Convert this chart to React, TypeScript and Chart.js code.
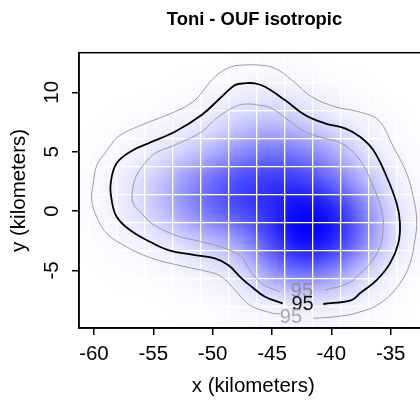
import React, { useEffect, useRef } from 'react';
import { Chart, registerables } from 'chart.js';

Chart.register(...registerables);

// ---- axis values ----
const xTicks = [-60, -55, -50, -45, -40, -35];
const yTicks = [-5, 0, 5, 10];
const xRange = [-61.26, -31.9];
const yRange = [-9.86, 13.34];

// white raster grid lines (km)
const gridX = [-60.42, -58.06, -55.7, -53.34, -50.98, -48.62, -46.26, -43.9, -41.54, -39.18, -36.82, -34.46, -32.1];
const gridY = [-8.03, -5.67, -3.31, -0.95, 1.41, 3.77, 6.13, 8.49, 10.85, 13.21];

// ---- density (relative intensity) ----
const densityX = [-60, -57.5, -55, -52.5, -50, -47.5, -45, -42.5, -40, -37.5, -35, -32.5];
const densityY = [12.5, 10, 7.5, 5, 2.5, 0, -2.5, -5, -7.5, -10];
const densityZ = [
  [0, 0, 0, 0, 0, 0.01, 0.02, 0.01, 0, 0, 0, 0],
  [0, 0, 0, 0.01, 0.03, 0.06, 0.08, 0.06, 0.03, 0.01, 0, 0],
  [0, 0.01, 0.03, 0.05, 0.1, 0.2, 0.25, 0.2, 0.1, 0.05, 0.02, 0],
  [0.01, 0.03, 0.08, 0.17, 0.3, 0.45, 0.55, 0.5, 0.35, 0.13, 0.04, 0.01],
  [0.02, 0.08, 0.2, 0.4, 0.6, 0.75, 0.8, 0.78, 0.6, 0.32, 0.09, 0.02],
  [0.02, 0.08, 0.2, 0.4, 0.6, 0.72, 0.85, 1.0, 0.92, 0.55, 0.15, 0.03],
  [0.01, 0.03, 0.07, 0.15, 0.27, 0.42, 0.75, 1.0, 0.9, 0.55, 0.15, 0.03],
  [0, 0.01, 0.02, 0.04, 0.08, 0.15, 0.45, 0.62, 0.5, 0.22, 0.06, 0.01],
  [0, 0, 0, 0.01, 0.02, 0.05, 0.08, 0.12, 0.1, 0.05, 0.02, 0],
  [0, 0, 0, 0, 0, 0.01, 0.02, 0.03, 0.02, 0.01, 0, 0],
];

// ---- 95% contour: estimate ----
const estimateX = [-40.68, -38.29, -37.59, -36.18, -35.06, -34.36, -34.22, -34.5, -35.34, -36.47, -37.59, -38.85, -40.54, -42.22, -43.91, -45.59, -46.44, -47.28, -48.12, -49.24, -50.93, -53.18, -55.43, -56.69, -58.09, -58.59, -58.51, -58.09, -56.97, -55.28, -53.74, -51.49, -49.81, -48.69, -47.56, -46.71, -45.59, -44.1];
const estimateY = [-7.83, -7.5, -6.93, -5.81, -4.41, -2.72, -1.04, 0.65, 2.89, 5.14, 6.26, 6.97, 7.39, 8.09, 9.35, 10.47, 10.76, 10.76, 10.61, 9.63, 8.09, 6.68, 5.7, 5.14, 4.02, 2.33, 0.93, -0.48, -1.6, -2.59, -3.29, -3.71, -3.98, -4.55, -5.67, -6.38, -7.22, -7.78];

// ---- 95% contour: lower CI (inner) ----
const lowerX = [-40.54, -38.58, -37.59, -36.75, -35.91, -35.63, -35.76, -36.47, -37.59, -39.13, -40.54, -42.22, -43.63, -45.03, -46.16, -47.28, -48.12, -49.53, -50.93, -53.18, -54.86, -55.7, -56.46, -56.77, -56.69, -55.98, -55.14, -53.18, -50.93, -48.96, -47.56, -47.11, -45.87, -44.33];
const lowerY = [-6.66, -6.09, -5.25, -4.41, -3.01, -1.32, 0.08, 2.05, 4.3, 5.7, 6.12, 6.68, 7.67, 8.65, 8.93, 9.01, 8.79, 7.94, 6.68, 5.56, 4.86, 4.02, 2.89, 1.52, 0.65, -0.19, -1.04, -2.02, -2.59, -3.14, -3.85, -4.63, -6.09, -6.8];

// ---- 95% contour: upper CI (outer) ----
const upperX = [-41.52, -39.7, -38.01, -35.91, -34.22, -33.38, -32.96, -32.81, -33.1, -33.66, -34.78, -36.05, -37.73, -39.7, -41.66, -43.34, -44.75, -46.16, -47.28, -48.4, -49.81, -51.49, -53.18, -55.98, -57.95, -58.99, -59.75, -60.06, -60.19, -59.77, -58.93, -57.25, -55.28, -52.33, -50.37, -49.24, -48.12, -46.86, -45.03, -44.33];
const upperY = [-9.04, -8.9, -8.62, -7.78, -6.09, -4.41, -2.44, -0.76, 1.2, 3.18, 5.42, 7.67, 8.37, 8.79, 9.63, 11.04, 12.02, 12.3, 12.3, 12.16, 11.31, 9.35, 8.37, 7.25, 6.26, 4.97, 3.88, 2.33, 0.93, -0.48, -1.88, -3.01, -3.92, -4.69, -5.11, -5.53, -6.66, -7.92, -8.59, -8.66];

// contour labels (lower, estimate, upper)
const labelText = ['95', '95', '95'];
const labelX = [-42.48, -42.43, -43.4];
const labelY = [-6.8, -7.83, -8.97];

const FONT = '"Liberation Sans", Arial, Helvetica, sans-serif';
const toPoints = (xs: number[], ys: number[]) => xs.map((x, i) => ({ x, y: ys[i] }));

export default function App() {
  const ref = useRef<HTMLCanvasElement | null>(null);

  useEffect(() => {
    const canvas = ref.current;
    if (!canvas) return;

    const densityPlugin = {
      id: 'densityRaster',
      beforeDraw(chart: any) {
        const { ctx, chartArea: a, scales } = chart;
        const xs = scales.x, ys = scales.y;
        const nx = densityX.length, ny = densityY.length;
        const off = document.createElement('canvas');
        off.width = nx; off.height = ny;
        const octx = off.getContext('2d')!;
        const img = octx.createImageData(nx, ny);
        for (let j = 0; j < ny; j++) {
          for (let i = 0; i < nx; i++) {
            const k = (j * nx + i) * 4;
            img.data[k] = 0; img.data[k + 1] = 0; img.data[k + 2] = 255;
            img.data[k + 3] = Math.round(densityZ[j][i] * 255);
          }
        }
        octx.putImageData(img, 0, 0);
        const hx = (densityX[1] - densityX[0]) / 2;
        const hy = (densityY[0] - densityY[1]) / 2;
        const l = xs.getPixelForValue(densityX[0] - hx);
        const r = xs.getPixelForValue(densityX[nx - 1] + hx);
        const t = ys.getPixelForValue(densityY[0] + hy);
        const b = ys.getPixelForValue(densityY[ny - 1] - hy);
        ctx.save();
        ctx.beginPath();
        ctx.rect(a.left, a.top, a.right - a.left, a.bottom - a.top);
        ctx.clip();
        ctx.imageSmoothingEnabled = true;
        ctx.imageSmoothingQuality = 'high';
        ctx.filter = 'blur(7px)';
        ctx.drawImage(off, l, t, r - l, b - t);
        ctx.restore();
      },
    };

    const decorPlugin = {
      id: 'decor',
      afterDatasetsDraw(chart: any) {
        const { ctx, scales } = chart;
        const colors = ['#8f8f8f', '#111111', '#a9a9a9'];
        ctx.save();
        ctx.font = `20px ${FONT}`;
        ctx.textAlign = 'center';
        ctx.textBaseline = 'middle';
        labelText.forEach((s, i) => {
          ctx.fillStyle = colors[i];
          ctx.fillText(s, scales.x.getPixelForValue(labelX[i]), scales.y.getPixelForValue(labelY[i]));
        });
        ctx.restore();
      },
      afterDraw(chart: any) {
        const { ctx, chartArea: a, scales } = chart;
        ctx.save();
        // frame
        ctx.strokeStyle = '#000';
        ctx.lineWidth = 1.5;
        ctx.strokeRect(a.left, a.top, a.right - a.left, a.bottom - a.top);
        // y tick labels, rotated like R
        ctx.fillStyle = '#000';
        ctx.font = `20.5px ${FONT}`;
        ctx.textAlign = 'center';
        ctx.textBaseline = 'middle';
        yTicks.forEach((v) => {
          const py = scales.y.getPixelForValue(v);
          ctx.save();
          ctx.translate(52.5, py);
          ctx.rotate(-Math.PI / 2);
          ctx.fillText(String(v), 0, 0);
          ctx.restore();
        });
        // main title
        ctx.font = `bold 18.4px ${FONT}`;
        ctx.fillText('Toni - OUF isotropic', 254.5, 20.3);
        ctx.restore();
      },
    };

    const chart = new Chart(canvas, {
      type: 'scatter',
      data: {
        datasets: [
          {
            label: 'upper',
            data: toPoints(upperX, upperY),
            showLine: true,
            borderColor: '#9a9a9a',
            borderWidth: 1,
            pointRadius: 0,
            tension: 0.4,
          },
          {
            label: 'lower',
            data: toPoints(lowerX, lowerY),
            showLine: true,
            borderColor: '#9a9a9a',
            borderWidth: 1,
            pointRadius: 0,
            tension: 0.4,
          },
          {
            label: 'estimate',
            data: toPoints(estimateX, estimateY),
            showLine: true,
            borderColor: '#000000',
            borderWidth: 1.8,
            pointRadius: 0,
            tension: 0.4,
          },
        ],
      },
      options: {
        animation: false,
        responsive: false,
        devicePixelRatio: 1,
        layout: { padding: { left: 0, top: 52.7, right: 52.5, bottom: 0 } },
        plugins: { legend: { display: false }, tooltip: { enabled: false }, title: { display: false } },
        scales: {
          x: {
            type: 'linear',
            position: 'bottom',
            min: xRange[0],
            max: xRange[1],
            afterBuildTicks: (s: any) => { s.ticks = xTicks.map((v) => ({ value: v })); },
            afterFit: (s: any) => { s.height = 73.9; },
            grid: { drawOnChartArea: false, color: '#000', lineWidth: 1.5, tickLength: 7 },
            border: { display: true, color: '#000', width: 1.5 },
            ticks: { color: '#000', font: { family: FONT, size: 20.5 }, padding: 7, maxRotation: 0, callback: (v: any) => String(v) },
            title: { display: true, text: 'x (kilometers)', color: '#000', font: { family: FONT, size: 20.5 }, padding: { top: 0, bottom: 3.5 } },
          },
          y: {
            type: 'linear',
            position: 'left',
            min: yRange[0],
            max: yRange[1],
            afterBuildTicks: (s: any) => { s.ticks = yTicks.map((v) => ({ value: v })); },
            afterFit: (s: any) => { s.width = 79; },
            grid: { drawOnChartArea: false, color: '#000', lineWidth: 1.5, tickLength: 7 },
            border: { display: true, color: '#000', width: 1.5 },
            ticks: { display: false },
            title: { display: true, text: 'y (kilometers)', color: '#000', font: { family: FONT, size: 20.5 }, padding: { top: 6.7, bottom: 0 } },
          },
          gx: {
            type: 'linear',
            position: 'bottom',
            min: xRange[0],
            max: xRange[1],
            afterBuildTicks: (s: any) => { s.ticks = gridX.map((v) => ({ value: v })); },
            afterFit: (s: any) => { s.height = 0; },
            grid: { color: '#ffffff', lineWidth: 1.3, drawTicks: false },
            border: { display: false },
            ticks: { display: false },
          },
          gy: {
            type: 'linear',
            position: 'left',
            min: yRange[0],
            max: yRange[1],
            afterBuildTicks: (s: any) => { s.ticks = gridY.map((v) => ({ value: v })); },
            afterFit: (s: any) => { s.width = 0; },
            grid: { color: '#ffffff', lineWidth: 1.3, drawTicks: false },
            border: { display: false },
            ticks: { display: false },
          },
        },
      } as any,
      plugins: [densityPlugin, decorPlugin],
    });

    return () => chart.destroy();
  }, []);

  return (
    <div style={{ position: 'absolute', left: 0, top: 0, width: 420, height: 402, overflow: 'hidden', background: '#fff' }}>
      <canvas ref={ref} width={480} height={402} style={{ display: 'block', width: 480, height: 402 }} />
    </div>
  );
}
